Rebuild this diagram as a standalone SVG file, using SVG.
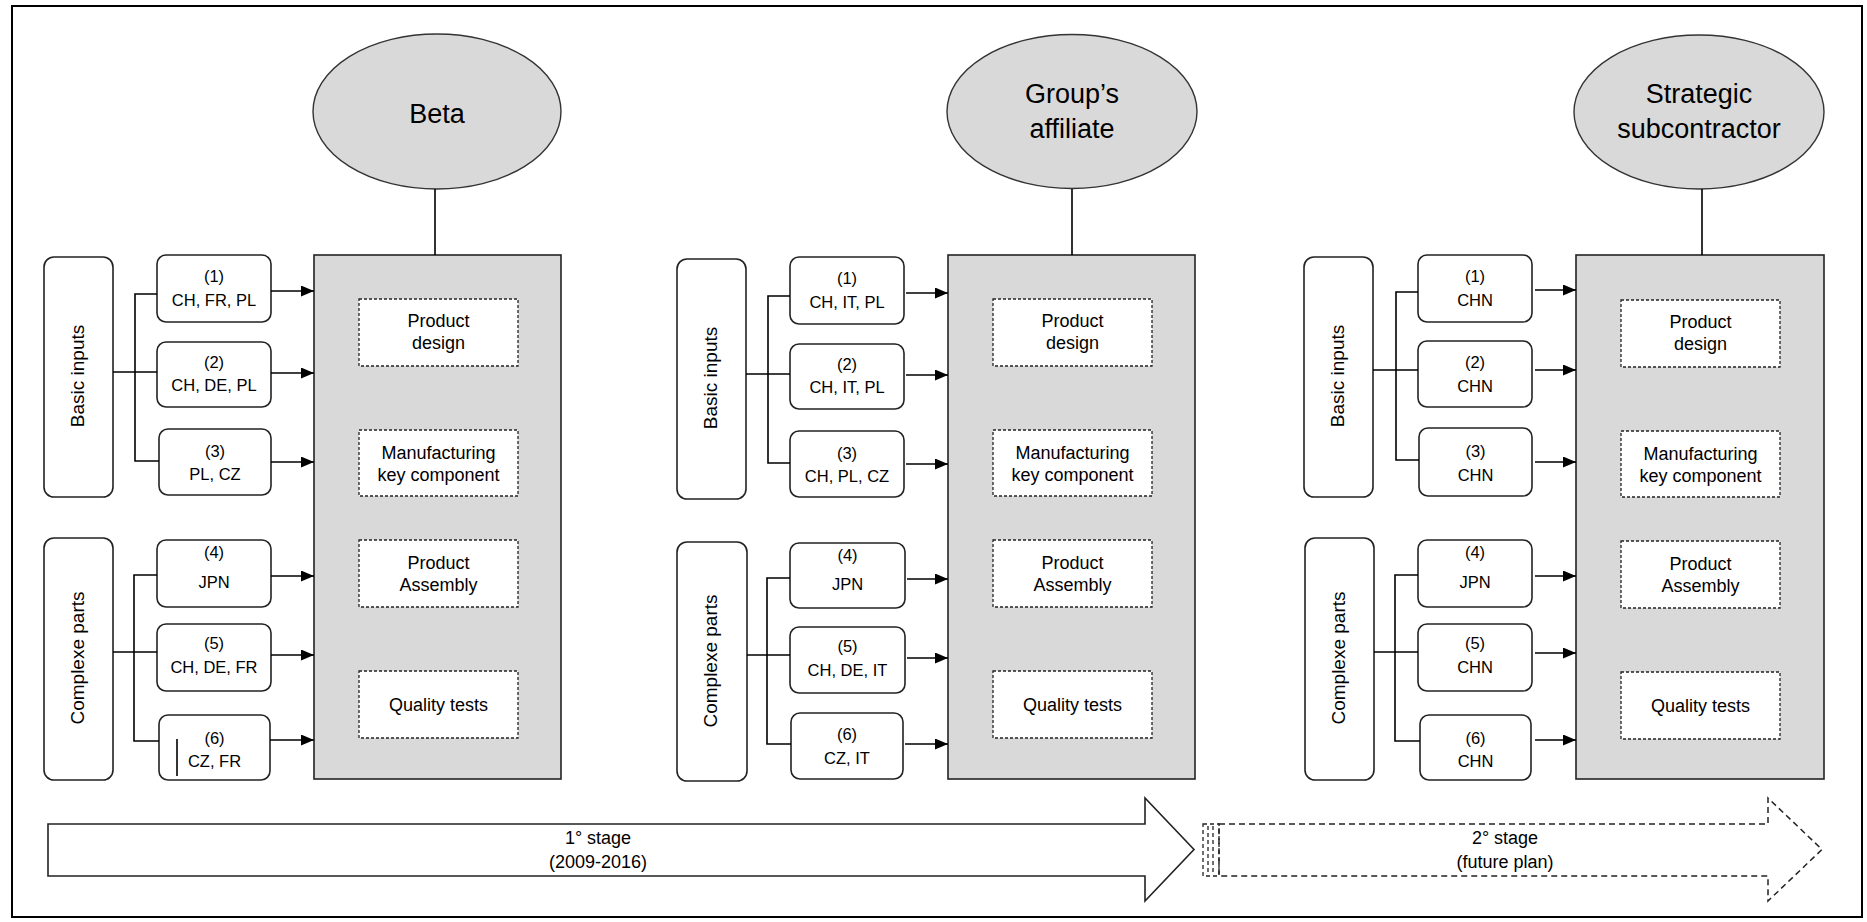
<svg xmlns="http://www.w3.org/2000/svg" width="1867" height="922" viewBox="0 0 1867 922">
<style>
.t{font-family:"Liberation Sans",Arial,sans-serif;fill:#000;text-anchor:middle}
.src{font-size:16.5px}
.act{font-size:18px}
.grp{font-size:19px}
.ttl{font-size:27px}
.stg{font-size:18px}
.ell{fill:#d9d9d9;stroke:#333;stroke-width:1.4}
.main{fill:#d9d9d9;stroke:#222;stroke-width:1.6}
.dash{fill:#fff;stroke:#222;stroke-width:1.3;stroke-dasharray:3 2}
.rb{fill:#fff;stroke:#222;stroke-width:1.6}
.ln{fill:none;stroke:#000;stroke-width:1.6}
.arr{fill:none;stroke:#000;stroke-width:1.6;marker-end:url(#ah)}
.big{fill:#fff;stroke:#222;stroke-width:1.6}
.bigd{fill:#fff;stroke:#222;stroke-width:1.5;stroke-dasharray:6 4}
</style>
<defs>
<marker id="ah" viewBox="0 0 13 11" refX="13" refY="5.5" markerWidth="13" markerHeight="11" markerUnits="userSpaceOnUse" orient="auto">
<path d="M0,0 L13,5.5 L0,11 z" fill="#000"/>
</marker>
</defs>
<rect x="12" y="6" width="1850" height="911" fill="#fff" stroke="#000" stroke-width="2"/>

<!-- Panel 1 -->
<g id="beta"><ellipse class="ell" cx="437" cy="111.5" rx="124" ry="77.5"/><text class="t ttl" x="437" y="123">Beta</text></g>
<g id="beta-box"><rect class="main" x="314" y="255" width="247" height="524"/></g>
<g id="beta-design"><rect class="dash" x="359" y="299" width="159" height="67"/><text class="t act" x="438.5" y="327">Product</text><text class="t act" x="438.5" y="349">design</text></g>
<g id="beta-manuf"><rect class="dash" x="359" y="430" width="159" height="66"/><text class="t act" x="438.5" y="459">Manufacturing</text><text class="t act" x="438.5" y="481">key component</text></g>
<g id="beta-assembly"><rect class="dash" x="359" y="540" width="159" height="67"/><text class="t act" x="438.5" y="569">Product</text><text class="t act" x="438.5" y="591">Assembly</text></g>
<g id="beta-quality"><rect class="dash" x="359" y="671" width="159" height="67"/><text class="t act" x="438.5" y="711">Quality tests</text></g>
<g id="beta-basic"><rect class="rb" x="44" y="257" width="69" height="240" rx="10"/><text class="t grp" transform="translate(76.5,376) rotate(-90)" dy="7">Basic inputs</text></g>
<g id="beta-complex"><rect class="rb" x="44" y="538" width="69" height="242" rx="10"/><text class="t grp" transform="translate(76.5,658) rotate(-90)" dy="7">Complexe parts</text></g>
<g id="beta-s1"><rect class="rb" x="157" y="255" width="114" height="67" rx="9"/><text class="t src" x="214" y="282">(1)</text><text class="t src" x="214" y="306">CH, FR, PL</text></g>
<g id="beta-s2"><rect class="rb" x="157" y="342" width="114" height="65" rx="9"/><text class="t src" x="214" y="368">(2)</text><text class="t src" x="214" y="391">CH, DE, PL</text></g>
<g id="beta-s3"><rect class="rb" x="159" y="429" width="112" height="66" rx="9"/><text class="t src" x="215" y="457">(3)</text><text class="t src" x="215" y="480">PL, CZ</text></g>
<g id="beta-s4"><rect class="rb" x="157" y="540" width="114" height="67" rx="9"/><text class="t src" x="214" y="558">(4)</text><text class="t src" x="214" y="588">JPN</text></g>
<g id="beta-s5"><rect class="rb" x="157" y="624" width="114" height="67" rx="9"/><text class="t src" x="214" y="649">(5)</text><text class="t src" x="214" y="673">CH, DE, FR</text></g>
<g id="beta-s6"><rect class="rb" x="159" y="715" width="111" height="65" rx="9"/><text class="t src" x="214.5" y="744">(6)</text><text class="t src" x="214.5" y="767">CZ, FR</text><path class="ln" d="M177,739 V776"/></g>

<!-- Panel 2 -->
<g id="affiliate"><ellipse class="ell" cx="1072" cy="111.5" rx="125" ry="77"/><text class="t ttl" x="1072" y="103">Group’s</text><text class="t ttl" x="1072" y="138">affiliate</text></g>
<g id="aff-box"><rect class="main" x="948" y="255" width="247" height="524"/></g>
<g id="aff-design"><rect class="dash" x="993" y="299" width="159" height="67"/><text class="t act" x="1072.5" y="327">Product</text><text class="t act" x="1072.5" y="349">design</text></g>
<g id="aff-manuf"><rect class="dash" x="993" y="430" width="159" height="66"/><text class="t act" x="1072.5" y="459">Manufacturing</text><text class="t act" x="1072.5" y="481">key component</text></g>
<g id="aff-assembly"><rect class="dash" x="993" y="540" width="159" height="67"/><text class="t act" x="1072.5" y="569">Product</text><text class="t act" x="1072.5" y="591">Assembly</text></g>
<g id="aff-quality"><rect class="dash" x="993" y="671" width="159" height="67"/><text class="t act" x="1072.5" y="711">Quality tests</text></g>
<g id="aff-basic"><rect class="rb" x="677" y="259" width="69" height="240" rx="10"/><text class="t grp" transform="translate(709.5,378) rotate(-90)" dy="7">Basic inputs</text></g>
<g id="aff-complex"><rect class="rb" x="677" y="542" width="70" height="239" rx="10"/><text class="t grp" transform="translate(710,661) rotate(-90)" dy="7">Complexe parts</text></g>
<g id="aff-s1"><rect class="rb" x="790" y="257" width="114" height="67" rx="9"/><text class="t src" x="847" y="284">(1)</text><text class="t src" x="847" y="308">CH, IT, PL</text></g>
<g id="aff-s2"><rect class="rb" x="790" y="344" width="114" height="65" rx="9"/><text class="t src" x="847" y="370">(2)</text><text class="t src" x="847" y="393">CH, IT, PL</text></g>
<g id="aff-s3"><rect class="rb" x="790" y="431" width="114" height="66" rx="9"/><text class="t src" x="847" y="459">(3)</text><text class="t src" x="847" y="482">CH, PL, CZ</text></g>
<g id="aff-s4"><rect class="rb" x="790" y="543" width="115" height="65" rx="9"/><text class="t src" x="847.5" y="561">(4)</text><text class="t src" x="847.5" y="590">JPN</text></g>
<g id="aff-s5"><rect class="rb" x="790" y="627" width="115" height="66" rx="9"/><text class="t src" x="847.5" y="652">(5)</text><text class="t src" x="847.5" y="676">CH, DE, IT</text></g>
<g id="aff-s6"><rect class="rb" x="791" y="713" width="112" height="66" rx="9"/><text class="t src" x="847" y="740">(6)</text><text class="t src" x="847" y="764">CZ, IT</text></g>

<!-- Panel 3 -->
<g id="subcontractor"><ellipse class="ell" cx="1699" cy="112" rx="125" ry="77"/><text class="t ttl" x="1699" y="103">Strategic</text><text class="t ttl" x="1699" y="138">subcontractor</text></g>
<g id="sub-box"><rect class="main" x="1576" y="255" width="248" height="524"/></g>
<g id="sub-design"><rect class="dash" x="1621" y="300" width="159" height="67"/><text class="t act" x="1700.5" y="328">Product</text><text class="t act" x="1700.5" y="350">design</text></g>
<g id="sub-manuf"><rect class="dash" x="1621" y="431" width="159" height="66"/><text class="t act" x="1700.5" y="460">Manufacturing</text><text class="t act" x="1700.5" y="482">key component</text></g>
<g id="sub-assembly"><rect class="dash" x="1621" y="541" width="159" height="67"/><text class="t act" x="1700.5" y="570">Product</text><text class="t act" x="1700.5" y="592">Assembly</text></g>
<g id="sub-quality"><rect class="dash" x="1621" y="672" width="159" height="67"/><text class="t act" x="1700.5" y="712">Quality tests</text></g>
<g id="sub-basic"><rect class="rb" x="1304" y="257" width="69" height="240" rx="10"/><text class="t grp" transform="translate(1336.5,376) rotate(-90)" dy="7">Basic inputs</text></g>
<g id="sub-complex"><rect class="rb" x="1305" y="538" width="69" height="242" rx="10"/><text class="t grp" transform="translate(1337.5,658) rotate(-90)" dy="7">Complexe parts</text></g>
<g id="sub-s1"><rect class="rb" x="1418" y="255" width="114" height="67" rx="9"/><text class="t src" x="1475" y="282">(1)</text><text class="t src" x="1475" y="306">CHN</text></g>
<g id="sub-s2"><rect class="rb" x="1418" y="341" width="114" height="66" rx="9"/><text class="t src" x="1475" y="368">(2)</text><text class="t src" x="1475" y="392">CHN</text></g>
<g id="sub-s3"><rect class="rb" x="1419" y="428" width="113" height="68" rx="9"/><text class="t src" x="1475.5" y="457">(3)</text><text class="t src" x="1475.5" y="481">CHN</text></g>
<g id="sub-s4"><rect class="rb" x="1418" y="540" width="114" height="67" rx="9"/><text class="t src" x="1475" y="558">(4)</text><text class="t src" x="1475" y="588">JPN</text></g>
<g id="sub-s5"><rect class="rb" x="1418" y="624" width="114" height="67" rx="9"/><text class="t src" x="1475" y="649">(5)</text><text class="t src" x="1475" y="673">CHN</text></g>
<g id="sub-s6"><rect class="rb" x="1420" y="715" width="111" height="65" rx="9"/><text class="t src" x="1475.5" y="744">(6)</text><text class="t src" x="1475.5" y="767">CHN</text></g>

<!-- Stage arrows -->
<g id="stage1"><path class="big" d="M48,824 H1145 V798 L1194,849.5 L1145,901 V876 H48 Z"/><text class="t stg" x="598" y="844">1° stage</text><text class="t stg" x="598" y="868">(2009-2016)</text></g>
<g id="stage2"><path class="bigd" d="M1219,824 H1768 V798 L1822,849.5 L1768,901 V876 H1219 Z"/><rect x="1203" y="824" width="16" height="52" fill="none" stroke="#222" stroke-width="1.3" stroke-dasharray="4 3"/><path d="M1208,826 V874 M1213,826 V874" stroke="#222" stroke-width="1.3" stroke-dasharray="4 3" fill="none"/><text class="t stg" x="1505" y="844">2° stage</text><text class="t stg" x="1505" y="868">(future plan)</text></g>

<!-- Connectors -->
<g id="connectors">
<path class="ln" d="M435,189 V255 M1072,189 V255 M1702,189 V255"/>
<path class="ln" d="M113,372 H157 M157,294 H135 V461 H159 M113,652 H157 M157,575 H134 V741 H159"/>
<path class="arr" d="M271,291 H314"/><path class="arr" d="M271,373 H314"/><path class="arr" d="M271,462 H314"/>
<path class="arr" d="M271,576 H314"/><path class="arr" d="M271,655 H314"/><path class="arr" d="M270,740 H314"/>
<path class="ln" d="M746,374 H790 M790,296 H768 V463 H790 M747,655 H790 M790,578 H767 V744 H791"/>
<path class="arr" d="M906,293 H948"/><path class="arr" d="M906,375 H948"/><path class="arr" d="M906,464 H948"/>
<path class="arr" d="M907,579 H948"/><path class="arr" d="M907,658 H948"/><path class="arr" d="M905,744 H948"/>
<path class="ln" d="M1373,370 H1418 M1418,292 H1396 V460 H1419 M1374,652 H1418 M1418,575 H1395 V741 H1420"/>
<path class="arr" d="M1535,290 H1576"/><path class="arr" d="M1535,370 H1576"/><path class="arr" d="M1535,462 H1576"/>
<path class="arr" d="M1535,576 H1576"/><path class="arr" d="M1535,653 H1576"/><path class="arr" d="M1535,740 H1576"/>
</g>
</svg>
